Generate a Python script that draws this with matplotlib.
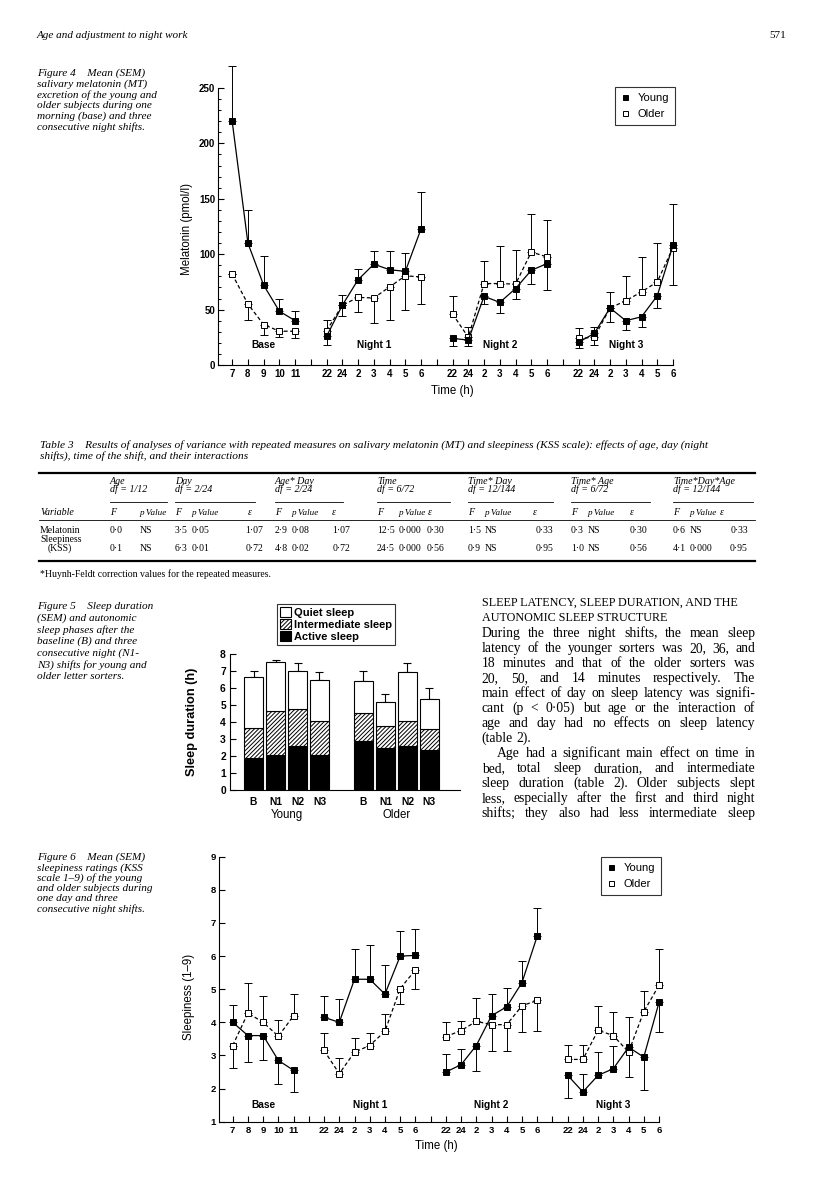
import matplotlib
matplotlib.use("Agg")
import matplotlib.pyplot as plt
import numpy as np
from matplotlib.lines import Line2D
from matplotlib.patches import Patch

W, H = 816, 1191
SANS = "Liberation Sans"
SERIF = "Liberation Serif"
plt.rcParams["hatch.linewidth"] = 0.7

# ---------------- data ----------------
segments = ["Base", "Night 1", "Night 2", "Night 3"]
base_hours = ["7", "8", "9", "10", "11"]
night_hours = ["22", "24", "2", "3", "4", "5", "6"]

# Figure 4, melatonin (pmol/l): means and the end of the SEM bar
mt_young = [[220, 110, 72, 48.5, 40],
            [26, 54, 77, 91, 86, 84.5, 123],
            [24, 22.5, 62, 56.5, 69, 85.5, 91.5],
            [20.5, 28.5, 51.5, 40, 43.5, 62.5, 108]]
mt_young_end = [[269.5, 140, 98, 59.5, 49],
                [18, 63, 87, 103, 103, 101, 156],
                [17, 17, 55.5, 46.5, 60, 73.5, 68],
                [15, 34.5, 39, 31.5, 34, 51, 145.5]]
mt_older = [[82, 55, 36.5, 30.5, 30.5],
            [31, 54, 61, 60.5, 70.5, 80.5, 79.5],
            [46, 25, 73.5, 73.5, 73, 102, 97.5],
            [24, 25, 51.5, 58, 66, 75, 106]]
mt_older_end = [[82, 41, 27, 25, 24],
                [40.5, 44, 48, 38, 41, 50, 55],
                [62, 34, 94, 107, 104, 136, 130.5],
                [33.5, 18, 66, 80.5, 97.5, 110.5, 72.5]]

# Figure 5, sleep phases (h)
sleep_days = ["B", "N1", "N2", "N3"]
age_groups = ["Young", "Older"]
active_young = [1.88, 2.04, 2.57, 2.08]
inter_young = [1.77, 2.59, 2.21, 2.00]
quiet_young = [2.98, 2.90, 2.24, 2.37]
sem_young = [0.39, 0.14, 0.43, 0.49]
active_older = [2.90, 2.47, 2.57, 2.37]
inter_older = [1.65, 1.29, 1.51, 1.22]
quiet_older = [1.88, 1.40, 2.86, 1.78]
sem_older = [0.59, 0.51, 0.55, 0.61]

# Figure 6, sleepiness (KSS 1-9): means and the end of the SEM bar
kss_young = [[4.0, 3.6, 3.6, 2.85, 2.55],
             [4.15, 4.0, 5.3, 5.3, 4.85, 6.0, 6.02],
             [2.5, 2.72, 3.3, 4.2, 4.47, 5.2, 6.6],
             [2.4, 1.9, 2.4, 2.6, 3.25, 2.95, 4.6]]
kss_young_end = [[4.52, 2.8, 2.85, 2.15, 1.9],
                 [4.78, 4.7, 6.2, 6.32, 5.72, 6.77, 6.82],
                 [3.05, 3.2, 2.52, 4.85, 5.05, 5.84, 7.46],
                 [1.72, 2.43, 3.1, 3.28, 4.15, 1.95, 3.7]]
kss_older = [[3.3, 4.28, 4.0, 3.58, 4.2],
             [3.15, 2.45, 3.1, 3.3, 3.73, 5.02, 5.58],
             [3.57, 3.75, 4.03, 3.93, 3.93, 4.5, 4.66],
             [2.88, 2.88, 3.76, 3.6, 3.1, 4.32, 5.12]]
kss_older_end = [[2.62, 5.2, 4.8, 4.08, 4.86],
                 [3.68, 2.92, 3.52, 3.68, 4.25, 4.55, 5.0],
                 [4.0, 4.05, 4.72, 3.12, 3.12, 3.7, 3.75],
                 [3.33, 3.33, 4.48, 4.32, 2.35, 4.95, 6.22]]

# Table 3
table_groups = ["Age", "Day", "Age* Day", "Time", "Time* Day", "Time* Age", "Time*Day*Age"]
table_df = ["df = 1/12", "df = 2/24", "df = 2/24", "df = 6/72", "df = 12/144", "df = 6/72", "df = 12/144"]
melatonin_row = [("0·0", "NS", ""), ("3·5", "0·05", "1·07"), ("2·9", "0·08", "1·07"),
                 ("12·5", "0·000", "0·30"), ("1·5", "NS", "0·33"), ("0·3", "NS", "0·30"),
                 ("0·6", "NS", "0·33")]
sleepiness_row = [("0·1", "NS", ""), ("6·3", "0·01", "0·72"), ("4·8", "0·02", "0·72"),
                  ("24·5", "0·000", "0·56"), ("0·9", "NS", "0·95"), ("1·0", "NS", "0·56"),
                  ("4·1", "0·000", "0·95")]

body_lines = [
    "During the three night shifts, the mean sleep",
    "latency of the younger sorters was 20, 36, and",
    "18 minutes and that of the older sorters was",
    "20, 50, and 14 minutes respectively. The",
    "main effect of day on sleep latency was signifi-",
    "cant (p < 0·05) but age or the interaction of",
    "age and day had no effects on sleep latency",
    "(table 2).",
    "Age had a significant main effect on time in",
    "bed, total sleep duration, and intermediate",
    "sleep duration (table 2). Older subjects slept",
    "less, especially after the first and third night",
    "shifts; they also had less intermediate sleep",
]

# ---------------- layout helpers ----------------
fig = plt.figure(figsize=(W / 100, H / 100), dpi=100)


def px_axes(l, t, r, b):
    return fig.add_axes([l / W, 1 - b / H, (r - l) / W, (b - t) / H])


def ftext(x, y, s, **kw):
    kw.setdefault("va", "center")
    return fig.text(x / W, 1 - y / H, s, **kw)


def hline(x0, x1, y, lw):
    fig.add_artist(Line2D([x0 / W, x1 / W], [1 - y / H, 1 - y / H], color="black", lw=lw))


seg_pos, tick_pos, tick_lab = [], [], []
start = 0
for i, seg in enumerate(segments):
    hours = base_hours if i == 0 else night_hours
    seg_pos.append(np.arange(start, start + len(hours)))
    tick_pos += list(range(start, start + len(hours)))
    tick_lab += hours
    start += len(hours)
    if i < len(segments) - 1:
        tick_pos.append(start)
        tick_lab.append("")
        start += 1


def time_panel(ax, young, young_end, older, older_end, ylim, seg_y, ylabel, tsize):
    for vals_all, ends_all, filled in [(older, older_end, False), (young, young_end, True)]:
        for pos, v, e in zip(seg_pos, vals_all, ends_all):
            v = np.array(v, float)
            e = np.array(e, float)
            lo = np.clip(v - e, 0, None)
            hi = np.clip(e - v, 0, None)
            ax.errorbar(pos, v, yerr=[lo, hi], fmt="none", ecolor="black", elinewidth=0.7,
                        capsize=2.6, capthick=0.7, clip_on=False, zorder=2)
            ln, = ax.plot(pos, v, color="black", lw=0.9, marker="s", ms=3.8,
                          mfc="black" if filled else "white", mec="black", mew=0.7,
                          clip_on=False, zorder=3)
            if not filled:
                ln.set_dashes((3, 2))
    for pos, seg in zip(seg_pos, segments):
        ax.text(pos.mean(), seg_y, seg, ha="center", va="center", family=SANS,
                fontsize=7.3, fontweight="bold")
    ax.set_xlim(-0.9, 28)
    ax.set_ylim(*ylim)
    ax.set_xticks(tick_pos)
    ax.set_xticklabels(tick_lab, family=SANS, fontsize=tsize, fontweight="bold")
    for s in ["top", "right"]:
        ax.spines[s].set_visible(False)
    for s in ["left", "bottom"]:
        ax.spines[s].set_linewidth(0.8)
    ax.tick_params(axis="x", direction="in", length=4, width=0.8, pad=3)
    ax.tick_params(axis="y", direction="in", length=4, width=0.8, pad=2)
    ax.set_ylabel(ylabel, family=SANS, fontsize=8.3)
    ax.set_xlabel("Time (h)", family=SANS, fontsize=8.3)


def style_yticks(ax, size):
    for t in ax.get_yticklabels():
        t.set_family(SANS)
        t.set_fontsize(size)
        t.set_fontweight("bold")


def age_legend(anchor):
    handles = [Line2D([], [], ls="none", marker="s", ms=3.6, mfc=c, mec="black", mew=0.7)
               for c in ["black", "white"]]
    leg = fig.legend(handles, ["Young", "Older"], loc="upper right",
                     bbox_to_anchor=(anchor[0] / W, 1 - anchor[1] / H),
                     prop={"family": SANS, "size": 8}, frameon=True, fancybox=False,
                     edgecolor="black", borderpad=0.55, labelspacing=0.55,
                     handlelength=0.8, handletextpad=0.7, borderaxespad=0)
    leg.get_frame().set_linewidth(0.8)


# ---------------- page header ----------------
ftext(37, 36, "Age and adjustment to night work", family=SERIF, style="italic", fontsize=8)
ftext(786, 36, "571", family=SERIF, fontsize=8, ha="right")

# ---------------- Figure 4 ----------------
cap_kw = dict(family=SERIF, style="italic", fontsize=8.1)
for i, s in enumerate(["Figure 4    Mean (SEM)", "salivary melatonin (MT)",
                       "excretion of the young and", "older subjects during one",
                       "morning (base) and three", "consecutive night shifts."]):
    ftext(37, 73.3 + 10.7 * i, s, **cap_kw)

ax4 = px_axes(218, 88, 673, 365)
time_panel(ax4, mt_young, mt_young_end, mt_older, mt_older_end, (0, 250), 18,
           "Melatonin (pmol/l)", 7.0)
ax4.set_yticks(np.arange(0, 251, 50))
ax4.set_yticks(np.arange(0, 251, 10), minor=True)
ax4.tick_params(axis="y", which="minor", direction="in", length=2, width=0.7)
style_yticks(ax4, 7.0)
ax4.yaxis.set_label_coords(-0.055, 0.49)
ax4.xaxis.set_label_coords(0.516, -0.072)
age_legend((675, 87))

# ---------------- Table 3 ----------------
tcap = dict(family=SERIF, style="italic", fontsize=8.2)
ftext(40, 445, "Table 3    Results of analyses of variance with repeated measures on salivary "
      "melatonin (MT) and sleepiness (KSS scale): effects of age, day (night", **tcap)
ftext(40, 456.5, "shifts), time of the shift, and their interactions", **tcap)
hline(39, 755, 472.7, 1.6)

grp_x = [110, 175, 275, 377, 468, 571, 673]
p_x = [140, 192, 292, 399, 485, 588, 690]
eps_hdr_x = [None, 248, 332, 428, 533, 630, 720]
eps_val_x = [None, 263, 350, 444, 553, 647, 748]
rule_end = [167, 255, 343, 450, 553, 650, 753]
th = dict(family=SERIF, style="italic", fontsize=7.2)
tv = dict(family=SERIF, fontsize=7)
for g, d, gx, px_, ex, rx in zip(table_groups, table_df, grp_x, p_x, eps_hdr_x, rule_end):
    ftext(gx, 481.7, g, **th)
    ftext(gx, 489.6, d, **th)
    hline(gx, rx, 501.7, 0.6)
    ftext(gx, 512.7, "F", **th)
    ftext(px_, 512.7, "p Value", family=SERIF, style="italic", fontsize=6.6)
    if ex is not None:
        ftext(ex, 512.7, "ε", **th)
ftext(40, 512.7, "Variable", **th)
hline(39, 755, 520, 0.6)

ftext(40, 530.7, "Melatonin", **tv)
ftext(40, 539.5, "Sleepiness", **tv)
ftext(48, 548.3, "(KSS)", **tv)
for row, y in [(melatonin_row, 530.7), (sleepiness_row, 548.3)]:
    for (f, p, e), gx, px_, ex in zip(row, grp_x, p_x, eps_val_x):
        ftext(gx, y, f, **tv)
        ftext(px_, y, p, **tv)
        if e:
            ftext(ex, y, e, ha="right", **tv)
hline(39, 755, 561, 1.6)
ftext(40, 574, "*Huynh-Feldt correction values for the repeated measures.",
      family=SERIF, fontsize=7)

# ---------------- Figure 5 ----------------
for i, s in enumerate(["Figure 5    Sleep duration", "(SEM) and autonomic",
                       "sleep phases after the", "baseline (B) and three",
                       "consecutive night (N1-", "N3) shifts for young and",
                       "older letter sorters."]):
    ftext(37, 606.7 + 11.6 * i, s, **cap_kw)

ax5 = px_axes(230, 654, 460, 790)
bar_kw = dict(width=0.86, edgecolor="black", linewidth=0.8, zorder=2)
for k, (act, inter, quiet, sem) in enumerate([(active_young, inter_young, quiet_young, sem_young),
                                              (active_older, inter_older, quiet_older, sem_older)]):
    x = np.arange(len(sleep_days)) + 5 * k
    act = np.array(act)
    inter = np.array(inter)
    quiet = np.array(quiet)
    ax5.bar(x, act, color="black", **bar_kw)
    ax5.bar(x, inter, bottom=act, color="white", hatch="////////", **bar_kw)
    ax5.bar(x, quiet, bottom=act + inter, color="white", **bar_kw)
    ax5.errorbar(x, act + inter + quiet, yerr=[np.zeros(len(x)), sem], fmt="none",
                 ecolor="black", elinewidth=0.8, capsize=3, capthick=0.8, zorder=1,
                 clip_on=False)
ax5.set_xlim(-1.07, 9.39)
ax5.set_ylim(0, 8)
ax5.set_yticks(range(0, 9))
ax5.set_xticks(list(range(4)) + list(range(5, 9)))
ax5.set_xticklabels(sleep_days * 2, family=SANS, fontsize=7.4, fontweight="bold")
ax5.tick_params(axis="x", length=0, pad=5)
ax5.tick_params(axis="y", direction="in", length=4, width=0.8, pad=3)
style_yticks(ax5, 7.4)
for s in ["top", "right"]:
    ax5.spines[s].set_visible(False)
for s in ["left", "bottom"]:
    ax5.spines[s].set_linewidth(0.8)
ax5.set_ylabel("Sleep duration (h)", family=SANS, fontsize=9.2, fontweight="bold")
ax5.yaxis.set_label_coords(-0.139, 0.5)
for k, g in enumerate(age_groups):
    ax5.text(1.5 + 5 * k, -0.185, g, transform=ax5.get_xaxis_transform(), ha="center",
             va="center", family=SANS, fontsize=8.3)

phase_handles = [Patch(facecolor="white", edgecolor="black", lw=0.8),
                 Patch(facecolor="white", edgecolor="black", lw=0.8, hatch="////////"),
                 Patch(facecolor="black", edgecolor="black", lw=0.8)]
leg5 = fig.legend(phase_handles, ["Quiet sleep", "Intermediate sleep", "Active sleep"],
                  loc="upper left", bbox_to_anchor=(277 / W, 1 - 604 / H),
                  prop={"family": SANS, "size": 8, "weight": "bold"}, frameon=True,
                  fancybox=False, edgecolor="black", borderpad=0.25, labelspacing=0.12,
                  handlelength=1.0, handleheight=1.0, handletextpad=0.3, borderaxespad=0)
leg5.get_frame().set_linewidth(0.8)

# right text column
ftext(481.7, 602.7, "SLEEP LATENCY, SLEEP DURATION, AND THE", family=SERIF, fontsize=8.7)
ftext(481.7, 617.7, "AUTONOMIC SLEEP STRUCTURE", family=SERIF, fontsize=8.7)

renderer = fig.canvas.get_renderer()
x_left, x_right, body_size = 481.7, 755, 9.8
for i, line in enumerate(body_lines):
    y = 633.3 + 15 * i + 4
    words = line.split(" ")
    texts = [fig.text(0, 1 - y / H, w, family=SERIF, fontsize=body_size, va="baseline")
             for w in words]
    widths = [t.get_window_extent(renderer).width for t in texts]
    x0 = x_left + (15.6 if i == 8 else 0)
    if i == 7 or len(words) == 1:
        gap = body_size * 0.25 * 100 / 72
    else:
        gap = (x_right - x0 - sum(widths)) / (len(words) - 1)
    for t, wd in zip(texts, widths):
        t.set_x(x0 / W)
        x0 += wd + gap

# ---------------- Figure 6 ----------------
for i, s in enumerate(["Figure 6    Mean (SEM)", "sleepiness ratings (KSS",
                       "scale 1–9) of the young", "and older subjects during",
                       "one day and three", "consecutive night shifts."]):
    ftext(37, 857.3 + 10.4 * i, s, **cap_kw)

ax6 = px_axes(219, 856.7, 659, 1121.7)
time_panel(ax6, kss_young, kss_young_end, kss_older, kss_older_end, (1, 9), 1.5,
           "Sleepiness (1–9)", 6.8)
ax6.set_yticks(range(1, 10))
style_yticks(ax6, 6.8)
ax6.yaxis.set_label_coords(-0.055, 0.47)
ax6.xaxis.set_label_coords(0.495, -0.069)
age_legend((661, 857))

fig.savefig("out.png", dpi=100)
